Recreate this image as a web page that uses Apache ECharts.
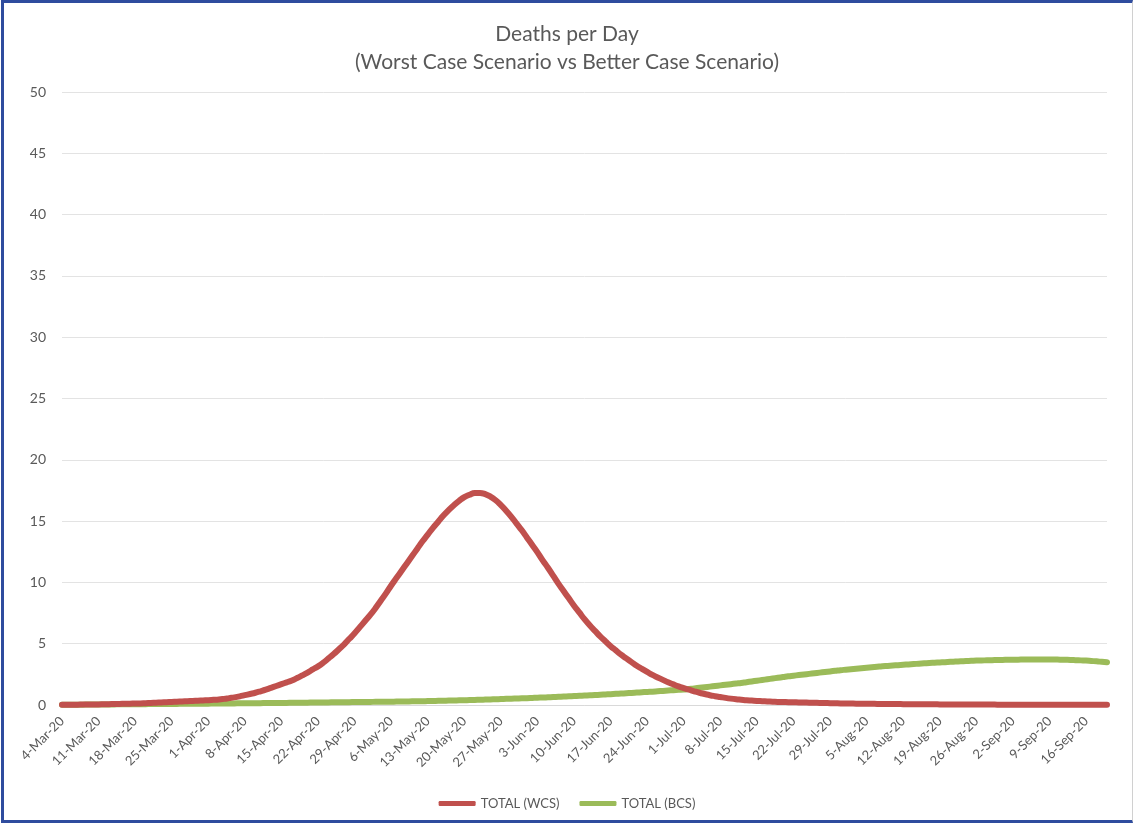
<!DOCTYPE html>
<html>
<head>
<meta charset="utf-8">
<title>Deaths per Day</title>
<script src="https://cdn.jsdelivr.net/npm/echarts@6/dist/echarts.min.js"></script>
<style>
  html, body { margin: 0; padding: 0; background: #fff; }
  #wrap { position: relative; width: 1134px; height: 823px; }
  #chart { position: absolute; left: 0; top: 0; width: 1134px; height: 823px; }
  #frame {
    position: absolute; left: 1px; top: 0; width: 1132px; height: 823px;
    box-sizing: border-box; pointer-events: none;
    border-top: 3px solid #2f4c9e; border-left: 3px solid #2f4c9e;
    border-bottom: 3px solid #2f4c9e; border-right: 1px solid #d0d0d0;
  }
</style>
</head>
<body>
<div id="wrap">
  <div id="chart"></div>
  <div id="frame"></div>
</div>
<script>
// daily categories from 4-Mar-20, one per value
const startDay = new Date(2020, 2, 4)
const monthNames = ['Jan', 'Feb', 'Mar', 'Apr', 'May', 'Jun', 'Jul', 'Aug', 'Sep', 'Oct', 'Nov', 'Dec']

// TOTAL (WCS) - worst case, deaths per day
const wcsValues = [
  0.02, 0.02, 0.03, 0.03, 0.04, 0.04, 0.05, 0.05, 0.06, 0.07,
  0.08, 0.09, 0.10, 0.11, 0.12, 0.13, 0.15, 0.17, 0.19, 0.21,
  0.23, 0.25, 0.27, 0.29, 0.31, 0.33, 0.35, 0.37, 0.39, 0.42,
  0.45, 0.50, 0.56, 0.62, 0.70, 0.80, 0.90, 1.00, 1.12, 1.25,
  1.40, 1.55, 1.70, 1.85, 2.00, 2.20, 2.42, 2.65, 2.90, 3.15,
  3.45, 3.80, 4.15, 4.55, 4.95, 5.40, 5.85, 6.35, 6.85, 7.35,
  7.90, 8.50, 9.10, 9.75, 10.35, 10.95, 11.55, 12.15, 12.75, 13.35,
  13.90, 14.45, 14.95, 15.45, 15.90, 16.30, 16.65, 16.95, 17.15, 17.30,
  17.30, 17.20, 17.00, 16.70, 16.30, 15.85, 15.35, 14.80, 14.25, 13.65,
  13.05, 12.45, 11.80, 11.20, 10.55, 9.90, 9.30, 8.70, 8.10, 7.55,
  7.00, 6.50, 6.05, 5.60, 5.20, 4.80, 4.45, 4.10, 3.80, 3.50,
  3.20, 2.95, 2.70, 2.45, 2.25, 2.05, 1.85, 1.68, 1.52, 1.38,
  1.25, 1.12, 1.00, 0.90, 0.80, 0.72, 0.65, 0.58, 0.52, 0.47,
  0.43, 0.39, 0.36, 0.33, 0.31, 0.29, 0.27, 0.25, 0.24, 0.23,
  0.22, 0.21, 0.20, 0.19, 0.18, 0.17, 0.16, 0.15, 0.14, 0.13,
  0.13, 0.12, 0.11, 0.11, 0.10, 0.10, 0.09, 0.09, 0.08, 0.08,
  0.08, 0.07, 0.07, 0.07, 0.06, 0.06, 0.06, 0.06, 0.05, 0.05,
  0.05, 0.05, 0.05, 0.04, 0.04, 0.04, 0.04, 0.04, 0.04, 0.03,
  0.03, 0.03, 0.03, 0.03, 0.03, 0.03, 0.03, 0.03, 0.02, 0.02,
  0.02, 0.02, 0.02, 0.02, 0.02, 0.02, 0.02, 0.02, 0.02, 0.02, 0.02
]

// TOTAL (BCS) - better case, deaths per day
const bcsValues = [
  0.02, 0.02, 0.03, 0.03, 0.03, 0.04, 0.04, 0.04, 0.05, 0.05,
  0.05, 0.06, 0.06, 0.06, 0.07, 0.07, 0.07, 0.08, 0.08, 0.08,
  0.09, 0.09, 0.09, 0.10, 0.10, 0.10, 0.11, 0.11, 0.11, 0.12,
  0.12, 0.12, 0.13, 0.13, 0.14, 0.14, 0.14, 0.15, 0.15, 0.16,
  0.16, 0.16, 0.17, 0.17, 0.18, 0.18, 0.19, 0.19, 0.20, 0.20,
  0.21, 0.21, 0.22, 0.22, 0.23, 0.23, 0.24, 0.24, 0.25, 0.25,
  0.26, 0.26, 0.27, 0.27, 0.28, 0.28, 0.29, 0.30, 0.30, 0.31,
  0.32, 0.33, 0.34, 0.35, 0.36, 0.37, 0.38, 0.39, 0.40, 0.41,
  0.43, 0.44, 0.45, 0.47, 0.48, 0.50, 0.51, 0.53, 0.55, 0.56,
  0.58, 0.60, 0.61, 0.63, 0.65, 0.67, 0.69, 0.71, 0.73, 0.75,
  0.77, 0.79, 0.81, 0.84, 0.86, 0.88, 0.91, 0.93, 0.96, 0.98,
  1.01, 1.04, 1.07, 1.09, 1.12, 1.15, 1.18, 1.21, 1.24, 1.27,
  1.31, 1.35, 1.40, 1.45, 1.50, 1.55, 1.60, 1.65, 1.70, 1.75,
  1.80, 1.86, 1.92, 1.98, 2.04, 2.10, 2.16, 2.22, 2.28, 2.34,
  2.39, 2.44, 2.49, 2.54, 2.59, 2.64, 2.69, 2.74, 2.79, 2.84,
  2.88, 2.92, 2.96, 3.00, 3.04, 3.08, 3.12, 3.16, 3.19, 3.22,
  3.25, 3.28, 3.31, 3.34, 3.37, 3.40, 3.43, 3.45, 3.47, 3.49,
  3.52, 3.54, 3.56, 3.58, 3.60, 3.62, 3.63, 3.65, 3.66, 3.67,
  3.68, 3.69, 3.70, 3.70, 3.71, 3.71, 3.72, 3.72, 3.72, 3.72,
  3.71, 3.70, 3.69, 3.68, 3.66, 3.64, 3.62, 3.59, 3.56, 3.52, 3.48
]

const yTicks = [0, 5, 10, 15, 20, 25, 30, 35, 40, 45, 50]

const dayLabels = wcsValues.map((v, i) => {
  const d = new Date(startDay.getFullYear(), startDay.getMonth(), startDay.getDate() + i)
  return d.getDate() + '-' + monthNames[d.getMonth()] + '-' + String(d.getFullYear()).slice(2)
})

const textColor = '#595959'
const fontFam = 'Lato, "Open Sans", sans-serif'

const myChart = echarts.init(document.getElementById('chart'))
const option = {
  backgroundColor: '#fff',
  animation: false,
  textStyle: { fontFamily: fontFam },
  title: {
    text: 'Deaths per Day\n(Worst Case Scenario vs Better Case Scenario)',
    left: 'center',
    top: 15,
    textStyle: {
      color: textColor,
      fontSize: 21,
      fontWeight: 'normal',
      lineHeight: 28,
      fontFamily: fontFam
    }
  },
  legend: {
    data: ['TOTAL (WCS)', 'TOTAL (BCS)'],
    left: 'center',
    top: 792,
    icon: 'roundRect',
    itemWidth: 37,
    itemHeight: 5,
    itemGap: 20,
    textStyle: { color: textColor, fontSize: 13, fontFamily: fontFam }
  },
  grid: {
    left: 62,
    right: 27,
    top: 92,
    bottom: 118
  },
  xAxis: {
    type: 'category',
    data: dayLabels,
    boundaryGap: false,
    axisLine: { lineStyle: { color: '#d9d9d9', width: 1 } },
    axisTick: { show: false },
    axisLabel: {
      interval: 6,
      rotate: 45,
      color: textColor,
      fontSize: 13,
      margin: 14,
      fontFamily: fontFam
    },
    splitLine: { show: false }
  },
  yAxis: {
    type: 'value',
    min: yTicks[0],
    max: yTicks[yTicks.length - 1],
    interval: 5,
    axisLine: { show: false },
    axisTick: { show: false },
    axisLabel: { color: textColor, fontSize: 14, margin: 16, fontFamily: fontFam },
    splitLine: { lineStyle: { color: '#e3e3e3', width: 1 } }
  },
  series: [
    {
      name: 'TOTAL (WCS)',
      type: 'line',
      data: wcsValues,
      smooth: true,
      showSymbol: false,
      symbol: 'none',
      itemStyle: { color: '#c0504d' },
      lineStyle: { color: '#c0504d', width: 6, cap: 'round' },
      z: 3
    },
    {
      name: 'TOTAL (BCS)',
      type: 'line',
      data: bcsValues,
      smooth: true,
      showSymbol: false,
      symbol: 'none',
      itemStyle: { color: '#9bbb59' },
      lineStyle: { color: '#9bbb59', width: 6, cap: 'round' },
      z: 2
    }
  ]
}
myChart.setOption(option)
window.addEventListener('resize', () => myChart.resize(), false)
</script>
</body>
</html>
